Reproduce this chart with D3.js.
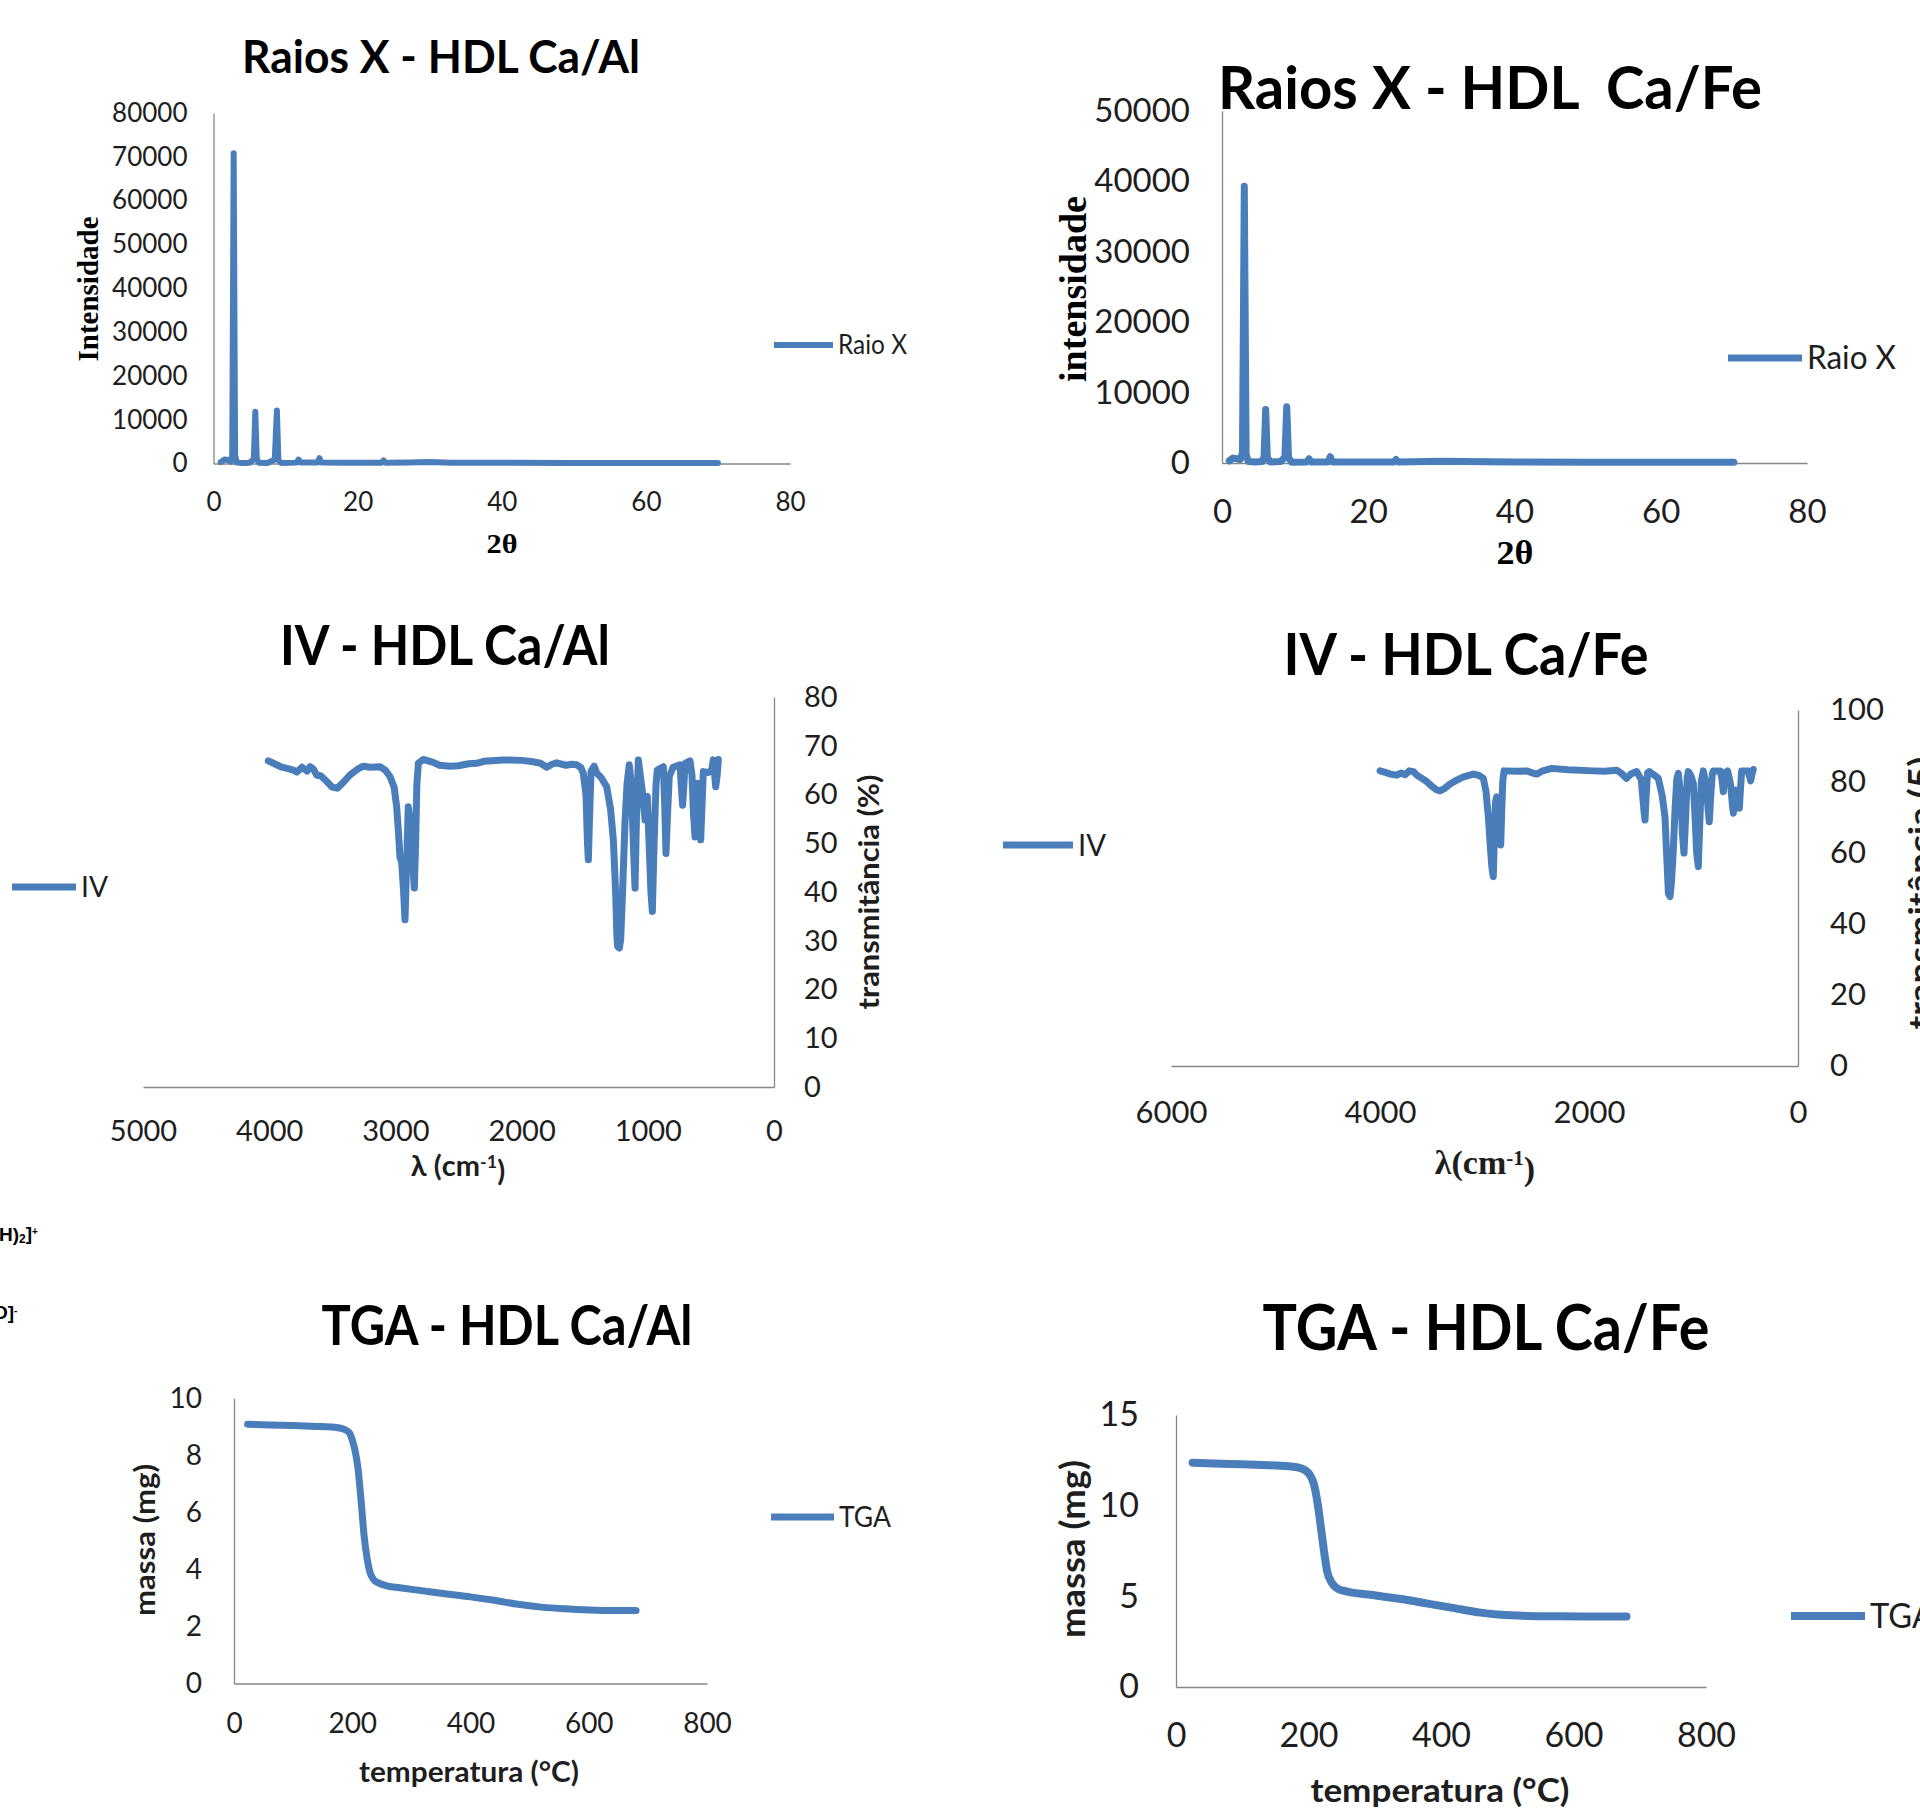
<!DOCTYPE html>
<html><head><meta charset="utf-8">
<script src="https://cdn.jsdelivr.net/npm/d3@7"></script>
<style>
body{margin:0;background:#fff;}
svg{display:block;}
text{font-family:Lato,"Open Sans",sans-serif;}
</style></head><body>
<script>
// ---------------- DATA ----------------
// X-ray HDL Ca/Al
const xrdAlTheta = [1.0,1.5,2.0,2.4,2.6,2.8,3.0,3.2,4.0,5.0,5.6,5.8,6.0,6.3,7.5,8.5,8.8,9.0,9.4,11.5,11.8,12.1,14.4,14.7,15.0,18,23.3,23.6,23.9,27,30,33,40,50,60,70];
const xrdAlInt   = [300,900,800,400,2000,70800,2000,200,100,150,1000,11800,1000,150,100,900,12100,800,100,200,900,200,200,1200,200,150,150,700,150,250,350,150,150,100,100,100];
// X-ray HDL Ca/Fe
const xrdFeTheta = [1.0,1.5,2.0,2.5,2.8,3.05,3.3,3.6,4.5,5.5,5.75,5.97,6.2,6.6,8.0,8.6,8.85,9.1,9.5,11.6,11.9,12.2,14.5,14.8,15.1,20,23.5,23.8,24.1,30,33,40,50,60,70];
const xrdFeInt   = [300,700,600,500,1500,39300,1200,200,150,200,900,7600,800,150,200,800,8000,800,100,150,600,150,150,900,150,150,150,500,150,250,200,150,100,100,100];
// IV HDL Ca/Al
const irAlWn = [4007,3950,3900,3850,3809,3780,3740,3700,3677,3650,3624,3590,3550,3500,3460,3420,3360,3300,3254,3200,3122,3080,3043,3010,2990,2975,2964,2950,2935,2924,2912,2898,2885,2872,2860,2850,2840,2830,2818,2779,2700,2650,2567,2500,2420,2356,2300,2145,2000,1907,1850,1801,1760,1722,1650,1600,1563,1530,1511,1490,1478,1471,1462,1450,1445,1425,1405,1370,1326,1295,1273,1255,1245,1239,1225,1215,1200,1181,1165,1147,1130,1115,1101,1090,1075,1060,1040,1022,1004,990,975,964,950,935,925,877,866,856,845,830,800,745,735,724,714,705,666,650,638,626,617,608,595,581,570,560,520,494,481,470,462,450,441];
const irAlT  = [66.9,66.2,65.6,65.3,65.0,64.6,65.6,64.8,65.7,65.2,64.0,63.8,62.8,61.5,61.3,62.3,64.0,65.2,65.8,65.6,65.7,65.0,63.7,61.5,57.5,52,47.2,46,40,34.3,45,57.5,55,52,45,40.8,50,62,66.4,67.2,66.6,66.0,65.8,65.9,66.3,66.4,66.8,67.1,67.0,66.7,66.4,65.6,66.2,66.5,66.0,66.2,66.1,65.5,64.3,60,50,46.6,55,64.8,65.0,65.8,64.4,63.5,61.6,57,50.7,40,31,28.8,28.5,30.2,40,54.1,62,66.1,62,50,40.8,55,67.1,64,60,54.8,59.6,50,40,36.0,50,62,65.0,65.7,58,47.9,55,63.7,65.6,66.1,62,57.8,62,66.4,66.9,64,56,51.3,58,62.3,55,50.7,58,64.7,64.5,65.0,67.1,64,61.6,64,67.2];
// IV HDL Ca/Fe
const irFeWn = [4000,3950,3900,3840,3800,3760,3720,3681,3640,3600,3553,3500,3460,3426,3380,3330,3266,3200,3107,3050,3011,2985,2970,2963,2945,2930,2916,2905,2895,2883,2870,2855,2845,2835,2825,2813,2700,2596,2540,2500,2450,2357,2200,1958,1850,1735,1690,1640,1600,1544,1500,1475,1464,1455,1440,1423,1380,1337,1300,1273,1255,1240,1225,1210,1193,1175,1160,1145,1120,1105,1091,1075,1060,1050,1025,1002,985,970,954,940,925,906,875,860,849,835,820,810,744,725,715,705,690,673,645,630,619,605,593,578,561,550,539,476,465,453,440,428];
const irFeT  = [82.9,82.5,82.0,81.7,82.3,81.8,82.9,82.7,81.5,80.8,79.9,78.5,77.6,77.3,78.0,79.2,80.3,81.2,82.0,81.6,80.8,77,72,70.0,62,56,53.2,65,74,75.6,70,64,62.1,72,80,82.9,82.8,82.9,82.3,82.0,82.8,83.6,83.2,82.9,82.8,83.1,82.2,80.8,82.0,82.7,80.5,72,69.1,75,82.3,82.7,81.8,80.8,76,70.0,58,48.5,47.6,52,60.7,73,80.5,82.2,75,65,59.8,70,81,82.7,81.5,79.4,70,60,56.0,68,80,82.9,78,72,68.6,76,82,82.9,82.9,80,77.1,80,82.5,82.9,79,74,71.0,75,77.5,74,72.4,78,82.9,82.9,81.5,80.1,82,83.3];
// TGA HDL Ca/Al
const tgaAlTemp = [23,60,100,140,170,185,195,200,205,210,215,220,225,230,236,245,260,280,320,360,400,440,480,520,560,600,640,680];
const tgaAlMass = [9.10,9.07,9.05,9.02,8.99,8.93,8.80,8.55,8.15,7.5,6.4,5.2,4.4,3.9,3.65,3.52,3.42,3.36,3.25,3.14,3.04,2.92,2.78,2.68,2.62,2.58,2.56,2.56];
// TGA HDL Ca/Fe
const tgaFeTemp = [25,80,130,170,185,195,202,208,213,218,223,228,235,245,260,290,340,380,420,460,490,530,580,630,680];
const tgaFeMass = [12.37,12.30,12.24,12.17,12.10,11.95,11.70,11.2,10.3,9.0,7.6,6.4,5.75,5.40,5.25,5.10,4.85,4.60,4.35,4.10,3.98,3.92,3.90,3.89,3.89];

// ticks
const xrdXTicks = [0,20,40,60,80];
const xrdAlYTicks = [0,10000,20000,30000,40000,50000,60000,70000,80000];
const xrdFeYTicks = [0,10000,20000,30000,40000,50000];
const irAlXTicks = [5000,4000,3000,2000,1000,0];
const irAlYTicks = [0,10,20,30,40,50,60,70,80];
const irFeXTicks = [6000,4000,2000,0];
const irFeYTicks = [0,20,40,60,80,100];
const tgaXTicks = [0,200,400,600,800];
const tgaAlYTicks = [0,2,4,6,8,10];
const tgaFeYTicks = [0,5,10,15];

// texts
const titles = ["Raios X - HDL Ca/Al","Raios X - HDL  Ca/Fe","IV - HDL Ca/Al","IV - HDL Ca/Fe","TGA - HDL Ca/Al","TGA - HDL Ca/Fe"];
const seriesNames = ["Raio X","Raio X","IV","IV","TGA","TGA"];

// ---------------- DRAW ----------------
const W=1920,H=1808;
const LINE='#4a7ebb', AXIS='#868686', INK='#1e1e1e';
const SERIF='"Liberation Serif","DejaVu Serif",serif';
const svg=d3.select('body').append('svg').attr('width',W).attr('height',H);
svg.append('rect').attr('width',W).attr('height',H).attr('fill','#fff');

function txt(x,y,str,o){
  const t=svg.append('text').attr('x',x).attr('y',y).text(str)
    .attr('font-size',o.size).attr('text-anchor',o.anchor||'middle')
    .attr('font-weight',o.weight||'normal').attr('fill',o.fill||'#000')
    .style('white-space','pre');
  if(o.family) t.style('font-family',o.family);
  if(o.len) t.attr('textLength',o.len).attr('lengthAdjust','spacingAndGlyphs');
  if(o.dy) t.attr('dy',o.dy);
  if(o.rotate) t.attr('transform',`rotate(-90,${x},${y})`);
  return t;
}

function panel(c){
  const xs=d3.scaleLinear().domain(c.xDom).range(c.xRange);
  const ys=d3.scaleLinear().domain(c.yDom).range(c.yRange);
  const gx=svg.append('g').attr('transform',`translate(0,${ys(0)})`)
    .call(d3.axisBottom(xs).tickValues(c.xTicks).tickSize(0).tickSizeOuter(0).tickPadding(c.xPad).tickFormat(d3.format('d')));
  const yAxis = c.yRight ? d3.axisRight(ys) : d3.axisLeft(ys);
  const yPos = c.yRight ? xs(c.xDom[1]) : xs(c.xDom[0]);
  const gy=svg.append('g').attr('transform',`translate(${yPos},0)`)
    .call(yAxis.tickValues(c.yTicks).tickSize(0).tickSizeOuter(0).tickPadding(c.yPad).tickFormat(d3.format('d')));
  [gx,gy].forEach(g=>{
    g.select('.domain').attr('stroke',AXIS).attr('stroke-width',1.3);
    g.selectAll('text').attr('font-size',c.tickSize).attr('fill',INK)
      .style('font-family','Lato,sans-serif');
  });
  const pts=c.xs.map((v,i)=>[v,c.ys[i]]);
  svg.append('path').datum(pts).attr('fill','none').attr('stroke',LINE)
    .attr('stroke-width',c.lw).attr('stroke-linejoin','round').attr('stroke-linecap','round')
    .attr('d',d3.line().x(d=>xs(d[0])).y(d=>ys(d[1])).curve(c.curve||d3.curveLinear));
  svg.append('line').attr('x1',c.leg[0]).attr('x2',c.leg[1]).attr('y1',c.leg[2]).attr('y2',c.leg[2])
    .attr('stroke',LINE).attr('stroke-width',c.lw);
  txt(c.leg[1]+5,c.leg[2],c.name,{size:c.legSize,anchor:'start',dy:'0.35em',fill:INK,len:c.legLen});
  txt(c.title[0],c.title[1],c.titleText,{size:c.title[2],weight:'bold',len:c.title[3]});
}

panel({xDom:[0,80],xRange:[213.5,790],yDom:[0,80000],yRange:[463.5,113],xTicks:xrdXTicks,yTicks:xrdAlYTicks,
  xPad:29,yPad:26,tickSize:26,xs:xrdAlTheta,ys:xrdAlInt,lw:6,leg:[774,833,345],name:seriesNames[0],legSize:26,legLen:69,
  titleText:titles[0],title:[441,73,45,398]});
panel({xDom:[0,80],xRange:[1222,1807],yDom:[0,50000],yRange:[463,111],xTicks:xrdXTicks,yTicks:xrdFeYTicks,
  xPad:37,yPad:32,tickSize:33,xs:xrdFeTheta,ys:xrdFeInt,lw:7,leg:[1728,1802,358],name:seriesNames[1],legSize:32,legLen:89,
  titleText:titles[1],title:[1490,109,59,544]});
panel({xDom:[5000,0],xRange:[143,774],yDom:[0,80],yRange:[1087,697],xTicks:irAlXTicks,yTicks:irAlYTicks,yRight:true,
  xPad:33,yPad:30,tickSize:29,xs:irAlWn,ys:irAlT,lw:7,leg:[12,76,887],name:seriesNames[2],legSize:29,legLen:27,
  titleText:titles[2],title:[445,665,55,330]});
panel({xDom:[6000,0],xRange:[1171,1798],yDom:[0,100],yRange:[1066,710],xTicks:irFeXTicks,yTicks:irFeYTicks,yRight:true,
  xPad:35,yPad:32,tickSize:31,xs:irFeWn,ys:irFeT,lw:7,leg:[1003,1073,845],name:seriesNames[3],legSize:31,legLen:28,
  titleText:titles[3],title:[1466,675,58,365]});
panel({xDom:[0,800],xRange:[234,707],yDom:[0,10],yRange:[1683.5,1398.5],xTicks:tgaXTicks,yTicks:tgaAlYTicks,
  xPad:30,yPad:32,tickSize:28,xs:tgaAlTemp,ys:tgaAlMass,lw:7,leg:[771,834,1517],name:seriesNames[4],legSize:28,legLen:52,
  titleText:titles[4],title:[507,1345,56,371],curve:d3.curveMonotoneX});
panel({xDom:[0,800],xRange:[1176,1706],yDom:[0,15],yRange:[1687,1415],xTicks:tgaXTicks,yTicks:tgaFeYTicks,
  xPad:36,yPad:37,tickSize:34,xs:tgaFeTemp,ys:tgaFeMass,lw:8,leg:[1791,1865,1616],name:seriesNames[5],legSize:34,legLen:64,
  titleText:titles[5],title:[1486,1350,63,447],curve:d3.curveMonotoneX});

// axis titles
txt(88,289,"Intensidade",{size:29,weight:'bold',family:SERIF,rotate:true,dy:'0.35em',len:145});
txt(502,553,"2θ",{size:28,weight:'bold',family:SERIF,len:31});
txt(1073,289,"intensidade",{size:38,weight:'bold',family:SERIF,rotate:true,dy:'0.35em',len:186});
txt(1515,564,"2θ",{size:34,weight:'bold',family:SERIF,len:37});
txt(869,892,"transmitância (%)",{size:29,weight:'bold',rotate:true,dy:'0.35em',len:235,fill:INK});
txt(1920,893,"transmitância (5)",{size:33,weight:'bold',rotate:true,dy:'0.35em',len:273,fill:INK});
txt(145,1540,"massa (mg)",{size:29,weight:'bold',rotate:true,dy:'0.35em',len:152,fill:INK});
txt(1073,1549,"massa (mg)",{size:34,weight:'bold',rotate:true,dy:'0.35em',len:178,fill:INK});
txt(469,1782,"temperatura (°C)",{size:28,weight:'bold',len:220,fill:INK});
txt(1440,1802,"temperatura (°C)",{size:33,weight:'bold',len:259,fill:INK});

function lambda(x,y,str,size,family,weight){
  const t=svg.append('text').attr('x',x).attr('y',y).attr('text-anchor','middle')
    .attr('font-size',size).attr('font-weight',weight).attr('fill',INK).style('font-family',family).style('white-space','pre');
  t.append('tspan').text(str);
  t.append('tspan').attr('dy','-0.45em').attr('font-size',size*0.62).text('-1');
  t.append('tspan').attr('dy','0.45em').text(')');
}
lambda(458,1176,"λ (cm",29,'Lato,sans-serif','bold');
lambda(1485,1174,"λ(cm",34,SERIF,'bold');

// stray fragments at left edge
const f1=svg.append('text').attr('x',-1).attr('y',1241).attr('font-size',19).attr('font-weight','bold').attr('fill','#000')
  .style('font-family','"Liberation Sans Narrow","Liberation Sans",sans-serif');
f1.append('tspan').text('H)');
f1.append('tspan').attr('dy','0.2em').attr('font-size',12).text('2');
f1.append('tspan').attr('dy','-0.2em').text(']');
f1.append('tspan').attr('dy','-0.5em').attr('font-size',10).text('+');
const f2=svg.append('text').attr('x',-7).attr('y',1319).attr('font-size',19).attr('font-weight','bold').attr('fill','#000')
  .style('font-family','"Liberation Sans Narrow","Liberation Sans",sans-serif');
f2.append('tspan').text('O]');
f2.append('tspan').attr('dy','-0.5em').attr('font-size',10).text('-');
</script>
</body></html>
